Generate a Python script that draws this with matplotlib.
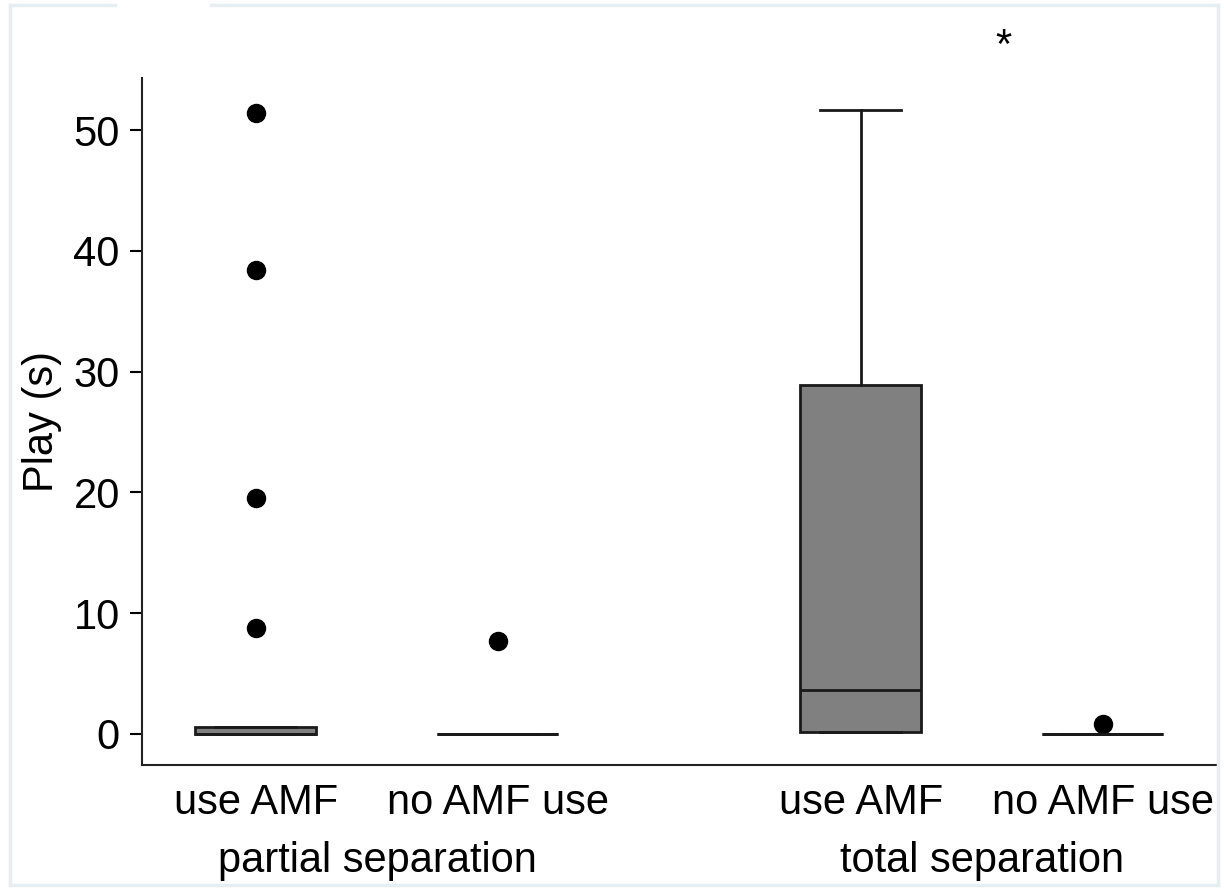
#box plot of play time by AMF use, partial vs total separation
#summary stats, drawn with bxp
import matplotlib
matplotlib.use('Agg')
import matplotlib.pyplot as plt
from matplotlib.lines import Line2D

plt.rcParams['font.family'] = ['Liberation Sans', 'DejaVu Sans']

# data
conditions = ['use AMF', 'no AMF use', 'use AMF', 'no AMF use']
groups = ['partial separation', 'total separation']
positions = [0, 1, 2.5, 3.5]
q1 = [0.0, 0.0, 0.15, 0.0]
med = [0.0, 0.0, 3.6, 0.0]
q3 = [0.6, 0.0, 28.9, 0.0]
whislo = [0.0, 0.0, 0.15, 0.0]
whishi = [0.6, 0.0, 51.7, 0.0]
fliers = [[51.4, 38.4, 19.5, 8.8], [7.7], [], [0.8]]
star_pos = (3.09, 56.9)

stats = []
for i in range(len(conditions)):
    stats.append(dict(label=conditions[i], q1=q1[i], med=med[i], q3=q3[i],
                      whislo=whislo[i], whishi=whishi[i], fliers=fliers[i]))

fig = plt.figure(figsize=(12.24, 8.89), dpi=100)
ax = fig.add_axes([0.116, 0.1395, 0.879, 0.7725])

dark = '#1a1a1a'
fs = 30
ax.bxp(stats, positions=positions, widths=0.5, patch_artist=True,
       showcaps=True, capwidths=0.335,
       boxprops=dict(facecolor='#808080', edgecolor=dark, linewidth=2),
       medianprops=dict(color=dark, linewidth=2),
       whiskerprops=dict(color=dark, linewidth=2),
       capprops=dict(color=dark, linewidth=2),
       flierprops=dict(marker='o', markerfacecolor='black', markeredgecolor='black',
                       markersize=13))

ax.set_xlim(-0.471, 3.975)
ax.set_ylim(-2.57, 54.3)
ax.set_yticks([0, 10, 20, 30, 40, 50])
ax.tick_params(axis='y', labelsize=fs, length=9, width=1.5, pad=7)
ax.tick_params(axis='x', labelsize=fs, length=0, pad=13)
ax.set_xticks(positions)
ax.set_xticklabels(conditions)
ax.set_ylabel('Play (s)', fontsize=fs, labelpad=8)

for s in ['top', 'right']:
    ax.spines[s].set_visible(False)
for s in ['left', 'bottom']:
    ax.spines[s].set_linewidth(1.5)
    ax.spines[s].set_color('#222222')

# group labels under the tick labels
for g, x in zip(groups, [0.5, 3.0]):
    ax.text(x, -10.5, g, ha='center', va='center', fontsize=fs, clip_on=False)

ax.text(star_pos[0], star_pos[1], '*', ha='center', va='center', fontsize=fs,
        clip_on=False)

# light frame from the original export
fc = '#e6eef2'
W, H = 1224, 889
def fline(x0, y0, x1, y1):
    fig.add_artist(Line2D([x0 / W, x1 / W], [1 - y0 / H, 1 - y1 / H], color=fc, lw=2.5))
fline(10, 5, 115, 5)
fline(211, 5, 1218, 5)
fline(10, 5, 10, 885)
fline(1218, 5, 1218, 885)
fline(10, 885, 1218, 885)

fig.savefig('out.png', dpi=100)
